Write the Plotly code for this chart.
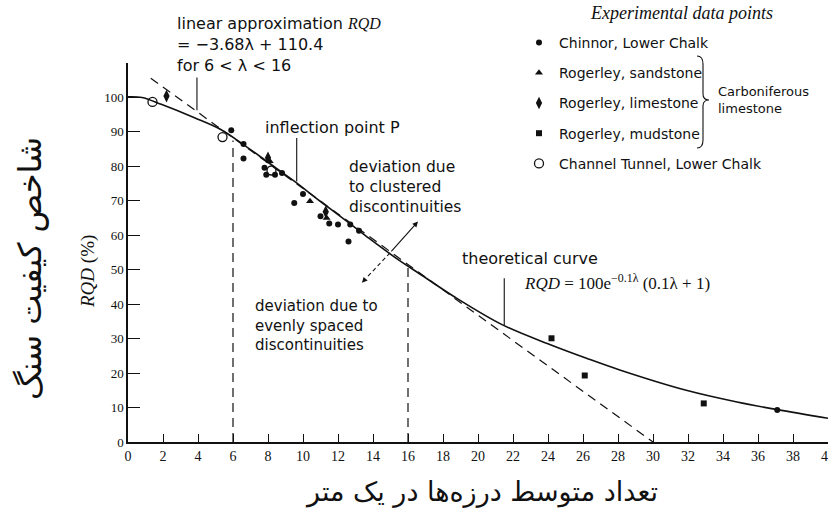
import plotly.graph_objects as go

# ---------------- data ----------------
# theoretical curve RQD = 100 e^(-0.1 lambda)(0.1 lambda + 1), as drawn
curve_x = [0, 0.8, 1.9, 3.8, 5.3, 6.6, 8.0, 9.5, 11.0, 12.7, 13.8, 15.5, 16.7,
           18.6, 21.4, 24.1, 26.2, 28.1, 31.9, 34.8, 37.1, 40]
curve_y = [100.2, 100, 98.0, 94.1, 90.7, 86.3, 81.2, 75.7, 69.8, 63.3, 59.0, 52.7,
           48.7, 42.3, 34.0, 28.3, 24.3, 20.9, 15.0, 11.6, 9.4, 6.9]

# linear approximation RQD = -3.68 lambda + 110.4 (end points as drawn)
lin_x = [1.3, 30.0]
lin_y = [105.6, 0.0]

# vertical guide lines at lambda = 6 and 16
guide_x = [6, 16]
guide_top = [87.5, 50.5]

# experimental data points
chinnor_x = [5.9, 6.6, 6.6, 7.8, 7.9, 8.4, 8.8, 9.5, 10.0, 11.0, 11.5, 12.0, 12.7, 13.2, 12.6, 37.1]
chinnor_y = [90.5, 86.5, 82.3, 79.6, 77.6, 77.6, 78.1, 69.4, 72.0, 65.5, 63.4, 63.1, 63.1, 61.3, 58.2, 9.3]
sand_x = [8.1, 10.4, 11.35]
sand_y = [81.5, 69.9, 65.0]
lime_x = [2.2, 8.0, 11.3]
lime_y = [100.4, 82.5, 66.8]
mud_x = [24.2, 26.1, 32.9]
mud_y = [30.1, 19.3, 11.2]
channel_x = [1.4, 5.4, 8.2]
channel_y = [98.7, 88.5, 78.8]

x_ticks = list(range(0, 41, 2))
y_ticks = list(range(0, 101, 10))

# ---------------- layout helpers (pixel -> paper) ----------------
L, T, W, H = 128, 63, 700, 379


def px(x):
    return (x - L) / W


def py(y):
    return (T + H - y) / H


SANS = "DejaVu Sans"
SERIF = "Liberation Serif"
PERSIAN = "DejaVu Sans"
INK = "#111111"

fig = go.Figure()

fig.add_trace(go.Scatter(x=curve_x, y=curve_y, mode="lines", line=dict(color=INK, width=1.6, shape="spline"),
                         showlegend=False, hoverinfo="skip"))
fig.add_trace(go.Scatter(x=lin_x, y=lin_y, mode="lines", line=dict(color=INK, width=1.2, dash="9px,6px"),
                         showlegend=False, hoverinfo="skip"))
for gx, gt in zip(guide_x, guide_top):
    fig.add_trace(go.Scatter(x=[gx, gx], y=[0, gt], mode="lines",
                             line=dict(color=INK, width=1.2, dash="9px,6px"),
                             showlegend=False, hoverinfo="skip"))

series = [
    ("Chinnor, Lower Chalk", chinnor_x, chinnor_y, dict(symbol="circle", size=6, color=INK)),
    ("Rogerley, sandstone", sand_x, sand_y, dict(symbol="triangle-up", size=7, color=INK)),
    ("Rogerley, limestone", lime_x, lime_y, dict(symbol="diamond-tall", size=9, color=INK)),
    ("Rogerley, mudstone", mud_x, mud_y, dict(symbol="square", size=6, color=INK)),
    ("Channel Tunnel, Lower Chalk", channel_x, channel_y,
     dict(symbol="circle-open", size=9, color=INK, line=dict(width=1.3))),
]
for i, (name, xs, ys, mk) in enumerate(series):
    fig.add_trace(go.Scatter(x=xs, y=ys, mode="markers", name=name, marker=mk,
                             legendgroup=f"g{i}"))

# dashed arrow part (evenly spaced)
fig.add_trace(go.Scatter(x=[14.97, 13.6], y=[54.9, 47.5], mode="lines",
                         line=dict(color=INK, width=1.1, dash="4px,3px"),
                         showlegend=False, hoverinfo="skip"))

annotations = []


def txt(text, x, y, size=15, family=SANS, xanchor="left", align="left", **kw):
    annotations.append(dict(text=text, x=px(x), y=py(y), xref="paper", yref="paper", showarrow=False,
                            xanchor=xanchor, yanchor="middle", align=align,
                            font=dict(family=family, size=size, color=INK), **kw))


ital = f'<span style="font-family:{SERIF}"><i>RQD</i></span>'

txt(f"linear approximation {ital}<br>= −3.68λ + 110.4<br>for 6 < λ < 16", 175, 44, size=16)
txt("inflection point P", 263, 127, size=16)
txt("deviation due<br>to clustered<br>discontinuities", 347, 187, size=15.5)
txt("deviation due to<br>evenly spaced<br>discontinuities", 253, 325, size=15)
txt("theoretical curve", 460, 258, size=16)
txt("<i>RQD</i> = 100e<sup>−0.1λ</sup> (0.1λ + 1)", 522, 282, family=SERIF, size=17)
txt("<i>Experimental data points</i>", 588, 13, family=SERIF, size=18)
txt("Carboniferous<br>limestone", 716, 100, size=13)
txt("<i>RQD</i> (%)", 88, 272, family=SERIF, size=19, xanchor="center", textangle=-90)
txt("شاخص کیفیت سنگ", 30, 268, family=PERSIAN, size=32, xanchor="center", textangle=-90)
txt("تعداد متوسط درزه\u200cها در یک متر", 482, 492, family=PERSIAN, size=27, xanchor="center")

annotations.append(dict(x=16.57, y=64.0, ax=14.97, ay=54.9, xref="x", yref="y", axref="x", ayref="y",
                        showarrow=True, arrowhead=2, arrowsize=1, arrowwidth=1.1, arrowcolor=INK, text=""))
annotations.append(dict(x=13.37, y=46.2, ax=13.6, ay=47.5, xref="x", yref="y", axref="x", ayref="y",
                        showarrow=True, arrowhead=2, arrowsize=1, arrowwidth=1.1, arrowcolor=INK, text=""))

shapes = [
    dict(type="line", xref="x", yref="y", x0=3.94, x1=3.94, y0=96.3, y1=105.8, line=dict(color=INK, width=1.1)),
    dict(type="line", xref="x", yref="y", x0=9.64, x1=9.64, y0=75.6, y1=88.2, line=dict(color=INK, width=1.1)),
    dict(type="line", xref="x", yref="y", x0=21.5, x1=21.5, y0=33.9, y1=47.5, line=dict(color=INK, width=1.1)),
]

bx0, bx1, bx2 = px(697), px(703), px(709)
yt, ym, yb = 56, 100, 148
brace = (f"M {bx0},{py(yt)} Q {bx1},{py(yt)} {bx1},{py(yt + 8)} L {bx1},{py(ym - 6)} "
         f"Q {bx1},{py(ym)} {bx2},{py(ym)} Q {bx1},{py(ym)} {bx1},{py(ym + 6)} "
         f"L {bx1},{py(yb - 8)} Q {bx1},{py(yb)} {bx0},{py(yb)}")
shapes.append(dict(type="path", xref="paper", yref="paper", path=brace, line=dict(color=INK, width=1.1)))

fig.update_layout(
    width=828, height=519,
    margin=dict(l=L, r=828 - L - W, t=T, b=519 - T - H, autoexpand=False),
    paper_bgcolor="white", plot_bgcolor="white",
    annotations=annotations, shapes=shapes,
    showlegend=True,
    legend=dict(x=px(519), y=py(27), xanchor="left", yanchor="top", bgcolor="rgba(0,0,0,0)",
                font=dict(family=SANS, size=14, color=INK), tracegroupgap=9),
    xaxis=dict(range=[0, 40], tickvals=x_ticks, ticktext=[str(v) for v in x_ticks], showline=True,
               linecolor=INK, linewidth=1.5, ticks="inside", ticklen=8, tickcolor=INK, tickwidth=1.2,
               showgrid=False, zeroline=False, ticklabeloverflow="allow", automargin=False,
               tickfont=dict(family=SERIF, size=14, color=INK)),
    yaxis=dict(range=[0, 110], tickvals=y_ticks, ticktext=[str(v) for v in y_ticks], showline=True,
               linecolor=INK, linewidth=1.5, ticks="inside", ticklen=12, tickcolor=INK, tickwidth=1.2,
               showgrid=False, zeroline=False, automargin=False,
               tickfont=dict(family=SERIF, size=13, color=INK)),
)

fig.write_html("out.html")
